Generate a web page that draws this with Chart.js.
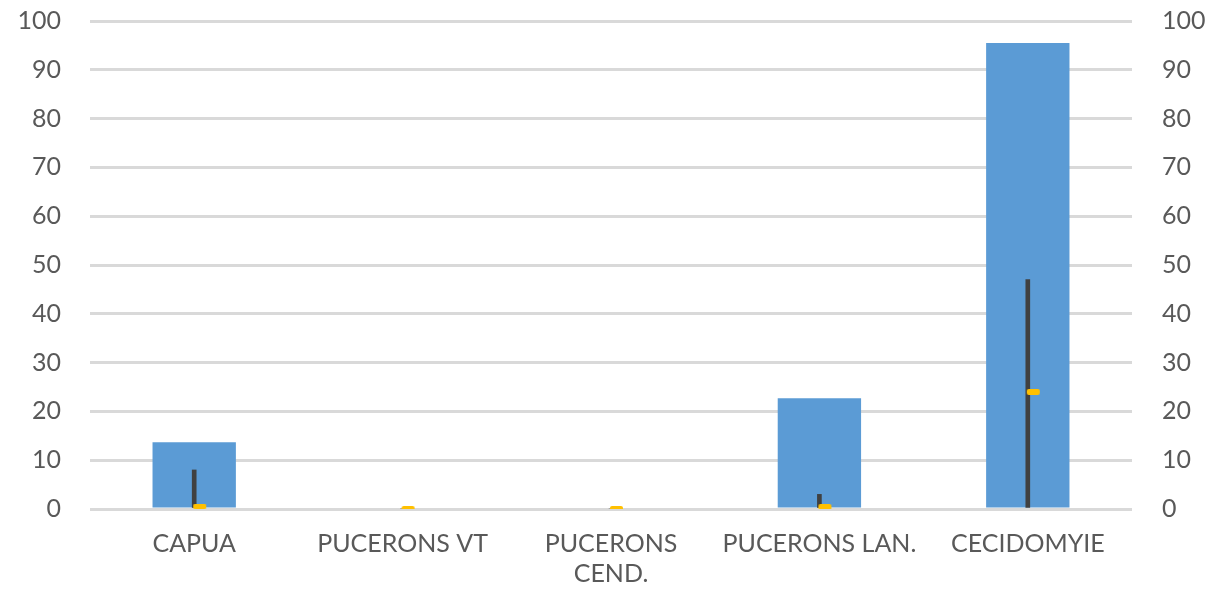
<!DOCTYPE html>
<html>
<head>
<meta charset="utf-8">
<script src="https://cdn.jsdelivr.net/npm/chart.js@4.4.0/dist/chart.umd.min.js"></script>
<style>
  html, body { margin: 0; padding: 0; background: #fff; }
  #wrap { width: 1215px; height: 597px; }
</style>
</head>
<body>
<div id="wrap"><canvas id="chart"></canvas></div>
<script>
  const categories = ['CAPUA', 'PUCERONS VT', ['PUCERONS', 'CEND.'], 'PUCERONS LAN.', 'CECIDOMYIE'];
  const barValues = [13.7, 0, 0, 22.7, 95.5];
  const highValues = [8, 0, 0, 3, 47];
  const markValues = [0.5, 0, 0, 0.4, 24];
  const yTicks = [0, 10, 20, 30, 40, 50, 60, 70, 80, 90, 100];

  // yellow dash marker, drawn to the right of the point
  const mark = document.createElement('canvas');
  mark.width = 26; mark.height = 6;
  const mctx = mark.getContext('2d');
  mctx.fillStyle = '#FFC000';
  mctx.beginPath();
  mctx.roundRect(12, 0, 13, 6, 2);
  mctx.fill();

  const font = { family: 'Lato', size: 25 };

  function fitY(width) {
    return s => {
      s.width = width;
      s.paddingTop = 0;
      s.paddingBottom = 0;
    };
  }

  new Chart(document.getElementById('chart'), {
    type: 'bar',
    data: {
      labels: categories,
      datasets: [
        {
          data: barValues,
          backgroundColor: '#5B9BD5',
          categoryPercentage: 1,
          barPercentage: 0.4,
          grouped: false,
          order: 3
        },
        {
          data: highValues.map(v => [0, v]),
          backgroundColor: '#404040',
          barThickness: 4,
          grouped: false,
          order: 2
        },
        {
          type: 'line',
          data: markValues,
          showLine: false,
          pointStyle: mark,
          pointRadius: 6,
          order: 1
        }
      ]
    },
    options: {
      responsive: true,
      maintainAspectRatio: false,
      animation: false,
      layout: { padding: { top: 21, right: 0, left: 10, bottom: 0 } },
      plugins: { legend: { display: false }, tooltip: { enabled: false } },
      scales: {
        x: {
          grid: { display: false },
          border: { display: false },
          ticks: { color: '#595959', font: font, maxRotation: 0, autoSkip: false, padding: 12 },
          afterFit: s => { s.height = 88; }
        },
        y: {
          min: 0, max: 100,
          afterBuildTicks: s => { s.ticks = yTicks.map(v => ({ value: v })); },
          grid: { color: '#D9D9D9', lineWidth: 3, drawTicks: false },
          border: { display: false },
          ticks: { color: '#595959', font: font, padding: 29 },
          afterFit: fitY(80)
        },
        y2: {
          position: 'right',
          min: 0, max: 100,
          afterBuildTicks: s => { s.ticks = yTicks.map(v => ({ value: v })); },
          grid: { display: false },
          border: { display: false },
          ticks: { color: '#595959', font: font, padding: 22 },
          afterFit: fitY(83)
        }
      }
    }
  });
</script>
</body>
</html>
